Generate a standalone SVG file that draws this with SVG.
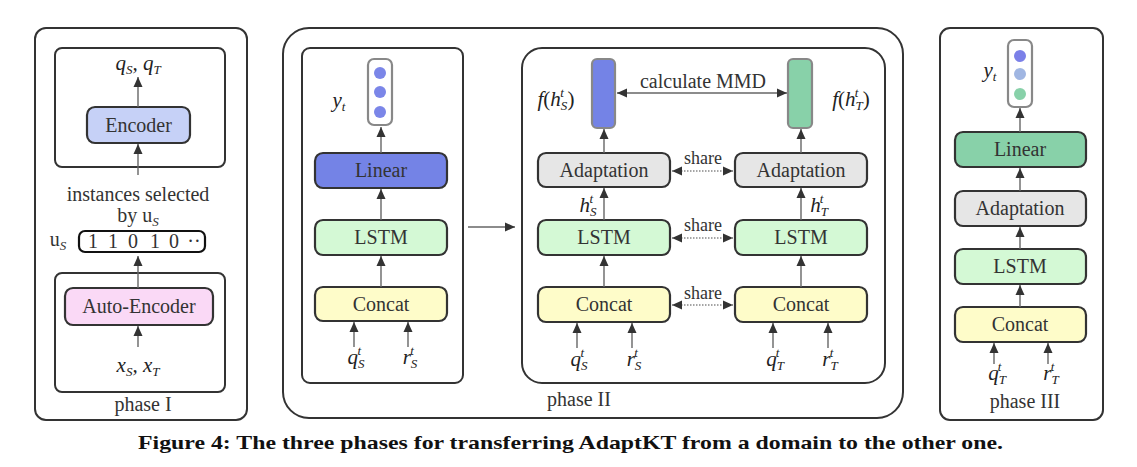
<svg xmlns="http://www.w3.org/2000/svg" width="1137" height="467" viewBox="0 0 1137 467">
<defs>
<marker id="ah" markerUnits="userSpaceOnUse" markerWidth="10" markerHeight="10" refX="10" refY="5" orient="auto-start-reverse" viewBox="0 0 10 10">
<path d="M0,0.5 L10,5 L0,9.5 z" fill="#333"/>
</marker>
</defs>
<style>
.frame{fill:none;stroke:#333;stroke-width:2}
.box{stroke:#333;stroke-width:2.2}
.vec{fill:#fff;stroke:#888;stroke-width:2.2}
.bar{stroke:#888;stroke-width:2.2}
.t{font-family:"Liberation Serif","Times New Roman",serif;font-size:20px;fill:#333;text-anchor:middle}
.m{font-family:"Liberation Serif","Times New Roman",serif;font-size:21px;font-style:italic;fill:#222;text-anchor:middle}
.s{font-size:13px}
.sh{font-size:18px}
.ar{stroke:#666;stroke-width:1.4;fill:none;marker-end:url(#ah)}
.dar{stroke:#666;stroke-width:1.4;fill:none;marker-end:url(#ah);marker-start:url(#ah)}
.dot{stroke:#888;stroke-width:1.6;stroke-dasharray:1.5 1.5;fill:none;marker-end:url(#ah);marker-start:url(#ah)}
.cap{font-family:"Liberation Serif","Times New Roman",serif;font-size:19px;font-weight:bold;fill:#111}
</style>

<!-- Phase I -->
<g id="phase1">
<rect class="frame" x="35" y="28" width="212" height="392" rx="11"/>
<rect class="frame" x="55" y="48" width="170" height="119" rx="7"/>
<rect class="frame" x="55" y="273" width="170" height="119" rx="7"/>
<text class="t" x="143" y="411">phase I</text>
</g>
<g id="encoder">
<rect class="box" x="87" y="107" width="103" height="36" rx="8" fill="#c6d1f7"/>
<text class="t" x="138.5" y="132">Encoder</text>
</g>
<g id="autoencoder">
<rect class="box" x="65" y="288" width="148" height="37" rx="8" fill="#fad9f6"/>
<text class="t" x="139" y="313">Auto-Encoder</text>
</g>
<g id="qs_qt"><text class="m" x="138" y="70">q<tspan class="s" dy="4">S</tspan><tspan dy="-4">, q</tspan><tspan class="s" dy="4">T</tspan></text></g>
<g id="xs_xt"><text class="m" x="138" y="372">x<tspan class="s" dy="4">S</tspan><tspan dy="-4">, x</tspan><tspan class="s" dy="4">T</tspan></text></g>
<g id="instances">
<text class="t" x="138" y="201">instances selected</text>
<text class="t" x="138" y="222">by u<tspan class="s" font-style="italic" dy="4">S</tspan></text>
</g>
<g id="us">
<text class="t" x="58" y="246">u<tspan class="s" font-style="italic" dy="4">S</tspan></text>
<rect x="79" y="231" width="126" height="21" rx="6" fill="#fff" stroke="#111" stroke-width="2.2"/>
<text class="t" x="93" y="248">1</text>
<text class="t" x="113" y="248">1</text>
<text class="t" x="133" y="248">0</text>
<text class="t" x="155" y="248">1</text>
<text class="t" x="174" y="248">0</text>
<text class="t" x="194" y="248">··</text>
</g>

<!-- Phase II -->
<g id="phase2">
<rect class="frame" x="283" y="28" width="620" height="390" rx="26"/>
<rect class="frame" x="302" y="48" width="161" height="335" rx="8"/>
<rect class="frame" x="522" y="48" width="363" height="335" rx="20"/>
<text class="t" x="579" y="406">phase II</text>
</g>
<g id="p2_out">
<rect class="vec" x="368" y="59" width="24" height="66" rx="6"/>
<circle cx="380" cy="73" r="6" fill="#7b86e8"/>
<circle cx="380" cy="92" r="6" fill="#7b86e8"/>
<circle cx="380" cy="112" r="6" fill="#7b86e8"/>
<text class="m" x="339" y="107">y<tspan class="s" dy="4">t</tspan></text>
</g>
<g id="p2_linear"><rect class="box" x="315" y="153" width="132" height="35" rx="8" fill="#7483e6"/><text class="t" x="381" y="177">Linear</text></g>
<g id="p2_lstm"><rect class="box" x="315" y="220" width="132" height="35" rx="8" fill="#d4f9d5"/><text class="t" x="381" y="244">LSTM</text></g>
<g id="p2_concat"><rect class="box" x="315" y="287" width="132" height="34" rx="8" fill="#fefcc9"/><text class="t" x="381" y="311">Concat</text></g>
<g id="p2_inputs">
<text class="m" x="356" y="364">q<tspan class="s" dy="4">S</tspan><tspan class="s" dx="-7" dy="-13">t</tspan></text>
<text class="m" x="410" y="364">r<tspan class="s" dy="4">S</tspan><tspan class="s" dx="-7" dy="-13">t</tspan></text>
</g>

<g id="fhs">
<rect class="bar" x="592" y="59" width="23" height="69" rx="5" fill="#7483e6"/>
<text class="m" x="556" y="106">f<tspan font-style="normal">(</tspan>h<tspan class="s" dy="4">S</tspan><tspan class="s" dx="-7" dy="-13">t</tspan><tspan font-style="normal" dx="3.5" dy="9">)</tspan></text>
</g>
<g id="fht">
<rect class="bar" x="788" y="59" width="24" height="69" rx="5" fill="#88d1a9"/>
<text class="m" x="851" y="106">f<tspan font-style="normal">(</tspan>h<tspan class="s" dy="4">T</tspan><tspan class="s" dx="-8" dy="-13">t</tspan><tspan font-style="normal" dx="4.5" dy="9">)</tspan></text>
</g>
<g id="adapt_s"><rect class="box" x="538" y="153" width="132" height="34" rx="8" fill="#e6e6e6"/><text class="t" x="604" y="177">Adaptation</text></g>
<g id="adapt_t"><rect class="box" x="735" y="153" width="132" height="34" rx="8" fill="#e6e6e6"/><text class="t" x="801" y="177">Adaptation</text></g>
<g id="lstm_s"><rect class="box" x="538" y="220" width="132" height="35" rx="8" fill="#d4f9d5"/><text class="t" x="604" y="244">LSTM</text></g>
<g id="lstm_t"><rect class="box" x="735" y="220" width="132" height="35" rx="8" fill="#d4f9d5"/><text class="t" x="801" y="244">LSTM</text></g>
<g id="concat_s"><rect class="box" x="538" y="287" width="132" height="35" rx="8" fill="#fefcc9"/><text class="t" x="604" y="311">Concat</text></g>
<g id="concat_t"><rect class="box" x="735" y="287" width="132" height="35" rx="8" fill="#fefcc9"/><text class="t" x="801" y="311">Concat</text></g>
<g id="p2r_labels">
<text class="m" x="588" y="212">h<tspan class="s" dy="4">S</tspan><tspan class="s" dx="-7" dy="-13">t</tspan></text>
<text class="m" x="819" y="212">h<tspan class="s" dy="4">T</tspan><tspan class="s" dx="-8" dy="-13">t</tspan></text>
<text class="m" x="579" y="366">q<tspan class="s" dy="4">S</tspan><tspan class="s" dx="-7" dy="-13">t</tspan></text>
<text class="m" x="634" y="366">r<tspan class="s" dy="4">S</tspan><tspan class="s" dx="-7" dy="-13">t</tspan></text>
<text class="m" x="775" y="366">q<tspan class="s" dy="4">T</tspan><tspan class="s" dx="-8" dy="-13">t</tspan></text>
<text class="m" x="830" y="366">r<tspan class="s" dy="4">T</tspan><tspan class="s" dx="-8" dy="-13">t</tspan></text>
<text class="t" x="703" y="88">calculate MMD</text>
<text class="t sh" x="703" y="164">share</text>
<text class="t sh" x="703" y="231">share</text>
<text class="t sh" x="703" y="299">share</text>
</g>

<!-- Phase III -->
<g id="phase3">
<rect class="frame" x="940" y="28" width="163" height="392" rx="10"/>
<text class="t" x="1025" y="408">phase III</text>
</g>
<g id="p3_out">
<rect class="vec" x="1008" y="40" width="24" height="67" rx="6"/>
<circle cx="1020" cy="56" r="6" fill="#7b80e8"/>
<circle cx="1020" cy="74" r="6" fill="#a0b6e2"/>
<circle cx="1020" cy="94" r="6" fill="#88d1a9"/>
<text class="m" x="990" y="77">y<tspan class="s" dy="4">t</tspan></text>
</g>
<g id="p3_linear"><rect class="box" x="955" y="132" width="131" height="35" rx="8" fill="#88d1a9"/><text class="t" x="1020" y="156">Linear</text></g>
<g id="p3_adapt"><rect class="box" x="955" y="191" width="131" height="35" rx="8" fill="#e6e6e6"/><text class="t" x="1020" y="215">Adaptation</text></g>
<g id="p3_lstm"><rect class="box" x="955" y="249" width="131" height="35" rx="8" fill="#d4f9d5"/><text class="t" x="1020" y="273">LSTM</text></g>
<g id="p3_concat"><rect class="box" x="955" y="307" width="131" height="35" rx="8" fill="#fefcc9"/><text class="t" x="1020" y="331">Concat</text></g>
<g id="p3_inputs">
<text class="m" x="997" y="380">q<tspan class="s" dy="4">T</tspan><tspan class="s" dx="-8" dy="-13">t</tspan></text>
<text class="m" x="1051" y="380">r<tspan class="s" dy="4">T</tspan><tspan class="s" dx="-8" dy="-13">t</tspan></text>
</g>

<!-- Connectors -->
<g id="connectors">
<line class="ar" x1="138" y1="107" x2="138" y2="77"/>
<line class="ar" x1="138" y1="175" x2="138" y2="144"/>
<line class="ar" x1="138" y1="288" x2="138" y2="256"/>
<line class="ar" x1="138" y1="347" x2="138" y2="326"/>

<line class="ar" x1="381" y1="153" x2="381" y2="127"/>
<line class="ar" x1="381" y1="220" x2="381" y2="189"/>
<line class="ar" x1="381" y1="287" x2="381" y2="256"/>
<line class="ar" x1="354" y1="347" x2="354" y2="322"/>
<line class="ar" x1="408" y1="347" x2="408" y2="322"/>
<line class="ar" x1="468" y1="227" x2="515" y2="227"/>

<line class="dar" x1="617" y1="93" x2="787" y2="93"/>
<line class="ar" x1="604" y1="153" x2="604" y2="129"/>
<line class="ar" x1="801" y1="153" x2="801" y2="129"/>
<line class="ar" x1="604" y1="220" x2="604" y2="188"/>
<line class="ar" x1="801" y1="220" x2="801" y2="188"/>
<line class="ar" x1="604" y1="287" x2="604" y2="256"/>
<line class="ar" x1="801" y1="287" x2="801" y2="256"/>
<line class="dot" x1="672" y1="171" x2="733" y2="171"/>
<line class="dot" x1="672" y1="238" x2="733" y2="238"/>
<line class="dot" x1="672" y1="305" x2="733" y2="305"/>
<line class="ar" x1="577" y1="348" x2="577" y2="323"/>
<line class="ar" x1="632" y1="348" x2="632" y2="323"/>
<line class="ar" x1="773" y1="348" x2="773" y2="323"/>
<line class="ar" x1="828" y1="348" x2="828" y2="323"/>

<line class="ar" x1="1020" y1="132" x2="1020" y2="108"/>
<line class="ar" x1="1020" y1="191" x2="1020" y2="168"/>
<line class="ar" x1="1020" y1="249" x2="1020" y2="227"/>
<line class="ar" x1="1020" y1="307" x2="1020" y2="285"/>
<line class="ar" x1="994" y1="364" x2="994" y2="343"/>
<line class="ar" x1="1048" y1="364" x2="1048" y2="343"/>
</g>

<text class="cap" x="138" y="449" textLength="865" lengthAdjust="spacingAndGlyphs">Figure 4: The three phases for transferring AdaptKT from a domain to the other one.</text>
</svg>
